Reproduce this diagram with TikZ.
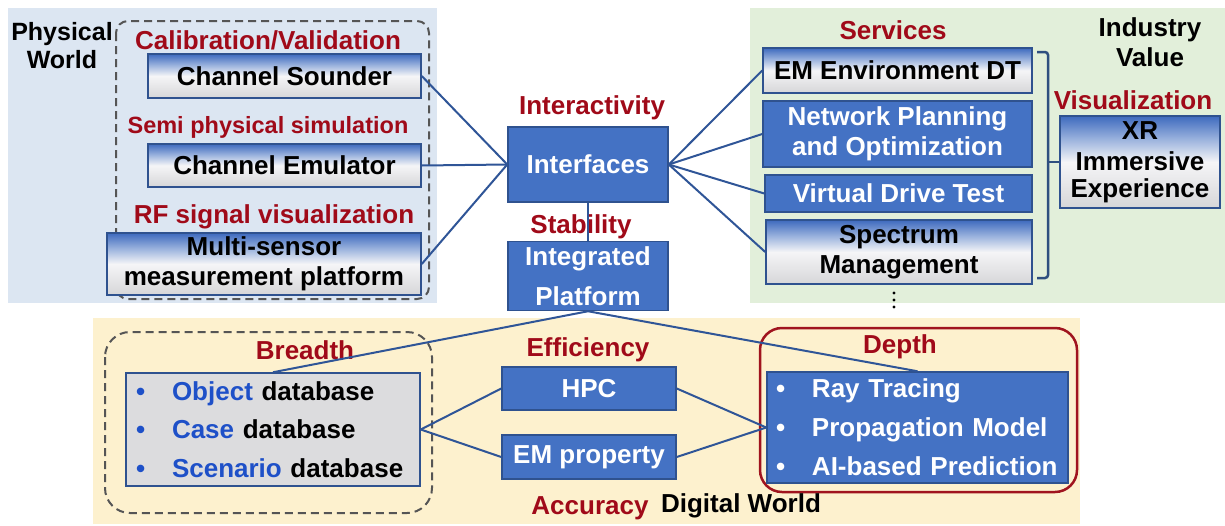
\documentclass[tikz,border=0pt]{standalone}
\usepackage{fontspec}
\setmainfont{Liberation Sans}
\definecolor{bgblue}{RGB}{220,230,242}
\definecolor{bggreen}{RGB}{226,239,218}
\definecolor{bgbeige}{RGB}{253,241,206}
\definecolor{boxblue}{RGB}{68,114,196}
\definecolor{boxedge}{RGB}{47,82,143}
\definecolor{lineblue}{RGB}{47,85,151}
\definecolor{lblred}{RGB}{160,10,25}
\definecolor{itemblue}{RGB}{30,80,200}
\definecolor{dashgray}{RGB}{85,85,85}
\definecolor{dbgray}{RGB}{220,220,222}
\definecolor{gtop}{RGB}{62,106,190}
\definecolor{gmidA}{RGB}{150,175,220}
\definecolor{gmidB}{RGB}{245,245,247}
\definecolor{gbot}{RGB}{214,214,216}
\definecolor{depthred}{RGB}{160,20,30}
\definecolor{brackcol}{RGB}{46,79,127}
\pgfdeclareverticalshading{gradbox}{100bp}{color(0bp)=(gbot); color(25bp)=(gbot); color(50bp)=(gmidB); color(63bp)=(gmidA); color(75bp)=(gtop); color(100bp)=(gtop)}
\newcommand\dbbul{\makebox[36pt][l]{\textcolor{itemblue}{•}}}
\newcommand\dpbul{\makebox[36pt][l]{•}}
\begin{document}
\begin{tikzpicture}[x=1pt,y=-1pt,
  every node/.style={font=\fontsize{26}{30}\selectfont\bfseries, inner sep=0pt},
  gbox/.style={draw=boxedge, line width=1.5pt, shade, shading=gradbox, align=center},
  sbox/.style={draw=boxedge, line width=1.5pt, fill=boxblue, text=white, align=center},
  lbl/.style={text=lblred},
  conn/.style={draw=lineblue, line width=2pt},
  dashframe/.style={draw=dashgray, line width=2pt, dash pattern=on 8pt off 5pt}]
\useasboundingbox (0,0) rectangle (1225,525);
% backgrounds
\fill[bgblue] (8,8) rectangle (437,303);
\fill[bggreen] (750,8) rectangle (1225,303);
\fill[bgbeige] (93,318) rectangle (1080,524);
% frames
\draw[dashframe, rounded corners=12pt] (116,21) rectangle (429,299);
\draw[dashframe, rounded corners=25pt] (105,332) rectangle (432,513);
\draw[draw=depthred, line width=2.5pt, rounded corners=22pt] (760,328) rectangle (1077,492);
% physical world
\node[align=center, font=\fontsize{25}{28}\selectfont\bfseries] (pw) at (62,46) {Physical\\World};
\node[lbl] (lcal) at (268,40) {Calibration/Validation};
\node[lbl, font=\fontsize{23.5}{28}\selectfont\bfseries] (lsemi) at (268,127) {Semi physical simulation};
\node[lbl] (lrf) at (274,217) {RF signal visualization};
\node[gbox, minimum width=273, minimum height=44] (cs) at (284.5,76) {Channel Sounder};
\node[gbox, minimum width=273, minimum height=43] (ce) at (284.5,165.5) {Channel Emulator};
\node[gbox, minimum width=314, minimum height=62] (ms) at (264,264) {Multi-sensor\\measurement platform};
% center
\node[lbl] (linter) at (592,108) {Interactivity};
\node[lbl] (lstab) at (581,227) {Stability};
\node[sbox, minimum width=160, minimum height=75] (intf) at (588,164.5) {Interfaces};
\node[sbox, minimum width=160, minimum height=69] (ip) at (588,276) {Integrated\\[10pt]Platform};
% services
\node[lbl] (lserv) at (893,30) {Services};
\node[align=center] (iv) at (1150,42) {Industry\\Value};
\node[lbl] (lvis) at (1133,100) {Visualization};
\node[gbox, minimum width=269, minimum height=45] (em) at (897.5,70.5) {EM Environment DT};
\node[sbox, minimum width=269, minimum height=66] (np) at (897.5,134) {Network Planning\\and Optimization};
\node[sbox, minimum width=267, minimum height=37] (vdt) at (898.5,193.5) {Virtual Drive Test};
\node[gbox, minimum width=266, minimum height=64] (sm) at (899,252) {Spectrum\\Management};
\node[gbox, minimum width=160, minimum height=92] (xr) at (1140,162) {XR\\[1pt]Immersive\\[-3pt]Experience};
\fill (894,293) circle (1.6pt) (894,300) circle (1.6pt) (894,307) circle (1.6pt);
% bracket
\coordinate (bt) at (1037,52);
\coordinate (btc) at (1048,52);
\coordinate (bbc) at (1048,278);
\coordinate (bb) at (1037,278);
\coordinate (bm) at (1048,162);
\draw[brackcol, line width=2.5pt, rounded corners=3pt] (bt) -- (btc) -- (bbc) -- (bb);
\draw[brackcol, line width=2.5pt] (bm) -- (xr.west);
% digital world
\node[lbl] (lbr) at (305,350) {Breadth};
\node[lbl] (leff) at (588,350) {Efficiency};
\node[lbl] (ldep) at (900,347) {Depth};
\node[lbl] (lacc) at (590,508) {Accuracy};
\node (dw) at (741,506) {Digital World};
\node[draw=boxedge, line width=1.5pt, fill=dbgray, minimum width=294, minimum height=113, text width=274pt, inner xsep=10pt, align=left, font=\fontsize{26}{38.5}\selectfont\bfseries] (db) at (273,429.5)
 {\dbbul\textcolor{itemblue}{Object} database\\\dbbul\textcolor{itemblue}{Case} database\\\dbbul\textcolor{itemblue}{Scenario} database};
\node[sbox, minimum width=174, minimum height=43] (hpc) at (589,388.5) {HPC};
\node[sbox, minimum width=174, minimum height=44] (emp) at (589,457) {EM property};
\node[sbox, minimum width=301, minimum height=111, text width=283pt, inner xsep=9pt, align=left, font=\fontsize{26}{39}\selectfont\bfseries] (dp) at (917.5,427.5)
 {\dpbul Ray Tracing\\\dpbul Propagation Model\\\dpbul AI-based Prediction};
% connectors
\draw[conn] (intf.west) -- (cs.east);
\draw[conn] (intf.west) -- (ce.east);
\draw[conn] (intf.west) -- (ms.east);
\draw[conn] (intf.east) -- (em.west);
\draw[conn] (intf.east) -- (np.west);
\draw[conn] (intf.east) -- (vdt.west);
\draw[conn] (intf.east) -- (sm.west);
\draw[conn] (intf.south) -- (ip.north);
\draw[conn] (ip.south) -- (db.north);
\draw[conn] (ip.south) -- (dp.north);
\draw[conn] (db.east) -- (hpc.west);
\draw[conn] (db.east) -- (emp.west);
\draw[conn] (hpc.east) -- (dp.west);
\draw[conn] (emp.east) -- (dp.west);
\end{tikzpicture}
\end{document}
